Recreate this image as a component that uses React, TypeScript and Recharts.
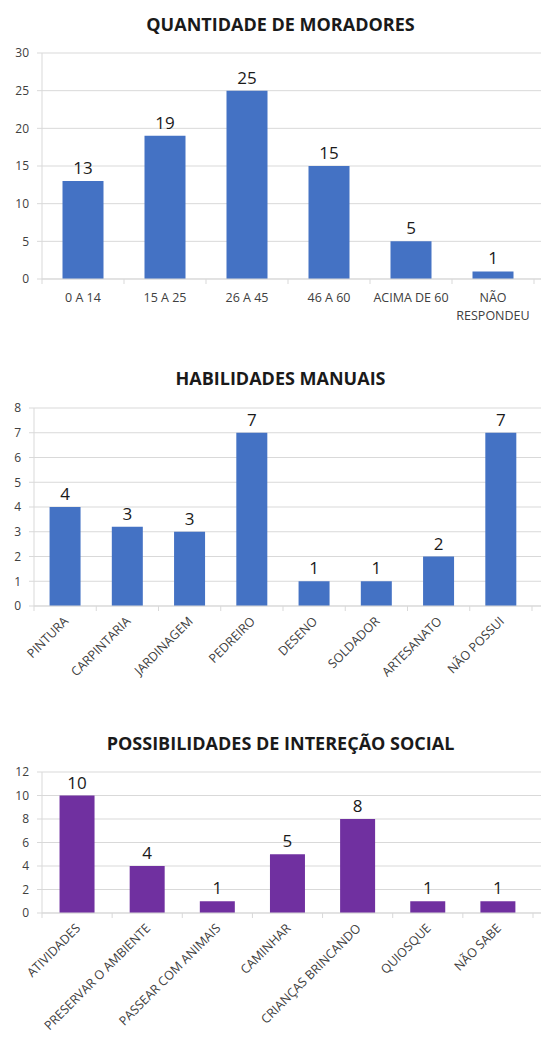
import React from 'react';
import { BarChart, Bar, XAxis, YAxis, CartesianGrid, LabelList } from 'recharts';

// Quantidade de moradores
const faixasEtarias = ['0 A 14', '15 A 25', '26 A 45', '46 A 60', 'ACIMA DE 60', 'NÃO RESPONDEU'];
const moradores = [13, 19, 25, 15, 5, 1];
const moradoresTicks = [0, 5, 10, 15, 20, 25, 30];

// Habilidades manuais (a barra de carpintaria aparece um pouco acima de 3)
const habilidades = ['PINTURA', 'CARPINTARIA', 'JARDINAGEM', 'PEDREIRO', 'DESENO', 'SOLDADOR', 'ARTESANATO', 'NÃO POSSUI'];
const habilidadesQtd = [4, 3.2, 3, 7, 1, 1, 2, 7];
const habilidadesTicks = [0, 1, 2, 3, 4, 5, 6, 7, 8];

// Possibilidades de interação social
const interacoes = ['ATIVIDADES', 'PRESERVAR O AMBIENTE', 'PASSEAR COM ANIMAIS', 'CAMINHAR', 'CRIANÇAS BRINCANDO', 'QUIOSQUE', 'NÃO SABE'];
const interacoesQtd = [10, 4, 1, 5, 8, 1, 1];
const interacoesTicks = [0, 2, 4, 6, 8, 10, 12];

const AZUL = '#4472C4';
const ROXO = '#7030A0';
const GRID = '#d9d9d9';
const TEXTO = '#404040';
const W = 541;

type BlocoProps = {
  titulo: string;
  tituloTop: number;
  top: number;
  height: number;
  nomes: string[];
  valores: number[];
  ticks: number[];
  cor: string;
  yWidth: number;
  marginTop: number;
  xHeight: number;
  padRight: number;
  girar: boolean;
};

const Bloco: React.FC<BlocoProps> = (p) => {
  const data = p.nomes.map((nome, i) => ({ nome, valor: p.valores[i] }));
  const banda = (W - p.yWidth - p.padRight) / p.nomes.length;

  const renderTick = (props: any) => {
    const { x, y, payload, index } = props;
    const xl = x - banda / 2;
    const marcas = (
      <>
        <line x1={xl} y1={y} x2={xl} y2={y + 5} stroke={GRID} />
        {index === p.nomes.length - 1 && <line x1={x + banda / 2} y1={y} x2={x + banda / 2} y2={y + 5} stroke={GRID} />}
      </>
    );
    if (p.girar) {
      const tx = x + 4;
      const ty = y + 16;
      return (
        <g>
          {marcas}
          <text x={tx} y={ty} textAnchor="end" fill={TEXTO} fontSize={12.5} transform={`rotate(-45, ${tx}, ${ty})`}>
            {payload.value}
          </text>
        </g>
      );
    }
    const linhas: string[] = payload.value.length > 12 ? payload.value.split(' ') : [payload.value];
    return (
      <g>
        {marcas}
        <text x={x} y={y + 23} textAnchor="middle" fill={TEXTO} fontSize={12.5}>
          {linhas.map((l, i) => (
            <tspan key={i} x={x} dy={i === 0 ? 0 : 18}>{l}</tspan>
          ))}
        </text>
      </g>
    );
  };

  return (
    <>
      <div style={{ position: 'absolute', left: 10, width: W, top: p.tituloTop, textAlign: 'center', fontWeight: 700, fontSize: 18, color: '#1a1a1a', lineHeight: '20px' }}>
        {p.titulo}
      </div>
      <div style={{ position: 'absolute', left: 0, top: p.top }}>
        <BarChart width={W} height={p.height} data={data} margin={{ top: p.marginTop, right: 0, bottom: 0, left: 0 }} barCategoryGap="25%">
          <CartesianGrid vertical={false} stroke={GRID} />
          <XAxis
            dataKey="nome"
            interval={0}
            height={p.xHeight}
            stroke={GRID}
            tickLine={false}
            tickSize={0}
            tickMargin={0}
            padding={{ left: 0, right: p.padRight }}
            tick={renderTick}
          />
          <YAxis
            width={p.yWidth}
            domain={[p.ticks[0], p.ticks[p.ticks.length - 1]]}
            ticks={p.ticks}
            interval={0}
            stroke={GRID}
            tickSize={5}
            tickMargin={8}
            tick={{ fill: TEXTO, fontSize: 12 }}
          />
          <Bar dataKey="valor" fill={p.cor} isAnimationActive={false}>
            <LabelList
              dataKey="valor"
              position="top"
              offset={7}
              formatter={(v: any) => String(Math.round(Number(v)))}
              style={{ fontSize: 17, fill: '#1a1a1a' }}
            />
          </Bar>
        </BarChart>
      </div>
    </>
  );
};

export default function App() {
  return (
    <div style={{ position: 'absolute', left: 0, top: 0, width: W, height: 1038, background: '#fff', overflow: 'hidden', fontFamily: '"Open Sans", sans-serif' }}>
      <Bloco
        titulo="QUANTIDADE DE MORADORES"
        tituloTop={14}
        top={0}
        height={330}
        nomes={faixasEtarias}
        valores={moradores}
        ticks={moradoresTicks}
        cor={AZUL}
        yWidth={42}
        marginTop={53}
        xHeight={51}
        padRight={7}
        girar={false}
      />
      <Bloco
        titulo="HABILIDADES MANUAIS"
        tituloTop={368}
        top={360}
        height={340}
        nomes={habilidades}
        valores={habilidadesQtd}
        ticks={habilidadesTicks}
        cor={AZUL}
        yWidth={34}
        marginTop={48}
        xHeight={94}
        padRight={9}
        girar={true}
      />
      <Bloco
        titulo="POSSIBILIDADES DE INTEREÇÃO SOCIAL"
        tituloTop={733}
        top={720}
        height={318}
        nomes={interacoes}
        valores={interacoesQtd}
        ticks={interacoesTicks}
        cor={ROXO}
        yWidth={42}
        marginTop={52}
        xHeight={125}
        padRight={8}
        girar={true}
      />
    </div>
  );
}
